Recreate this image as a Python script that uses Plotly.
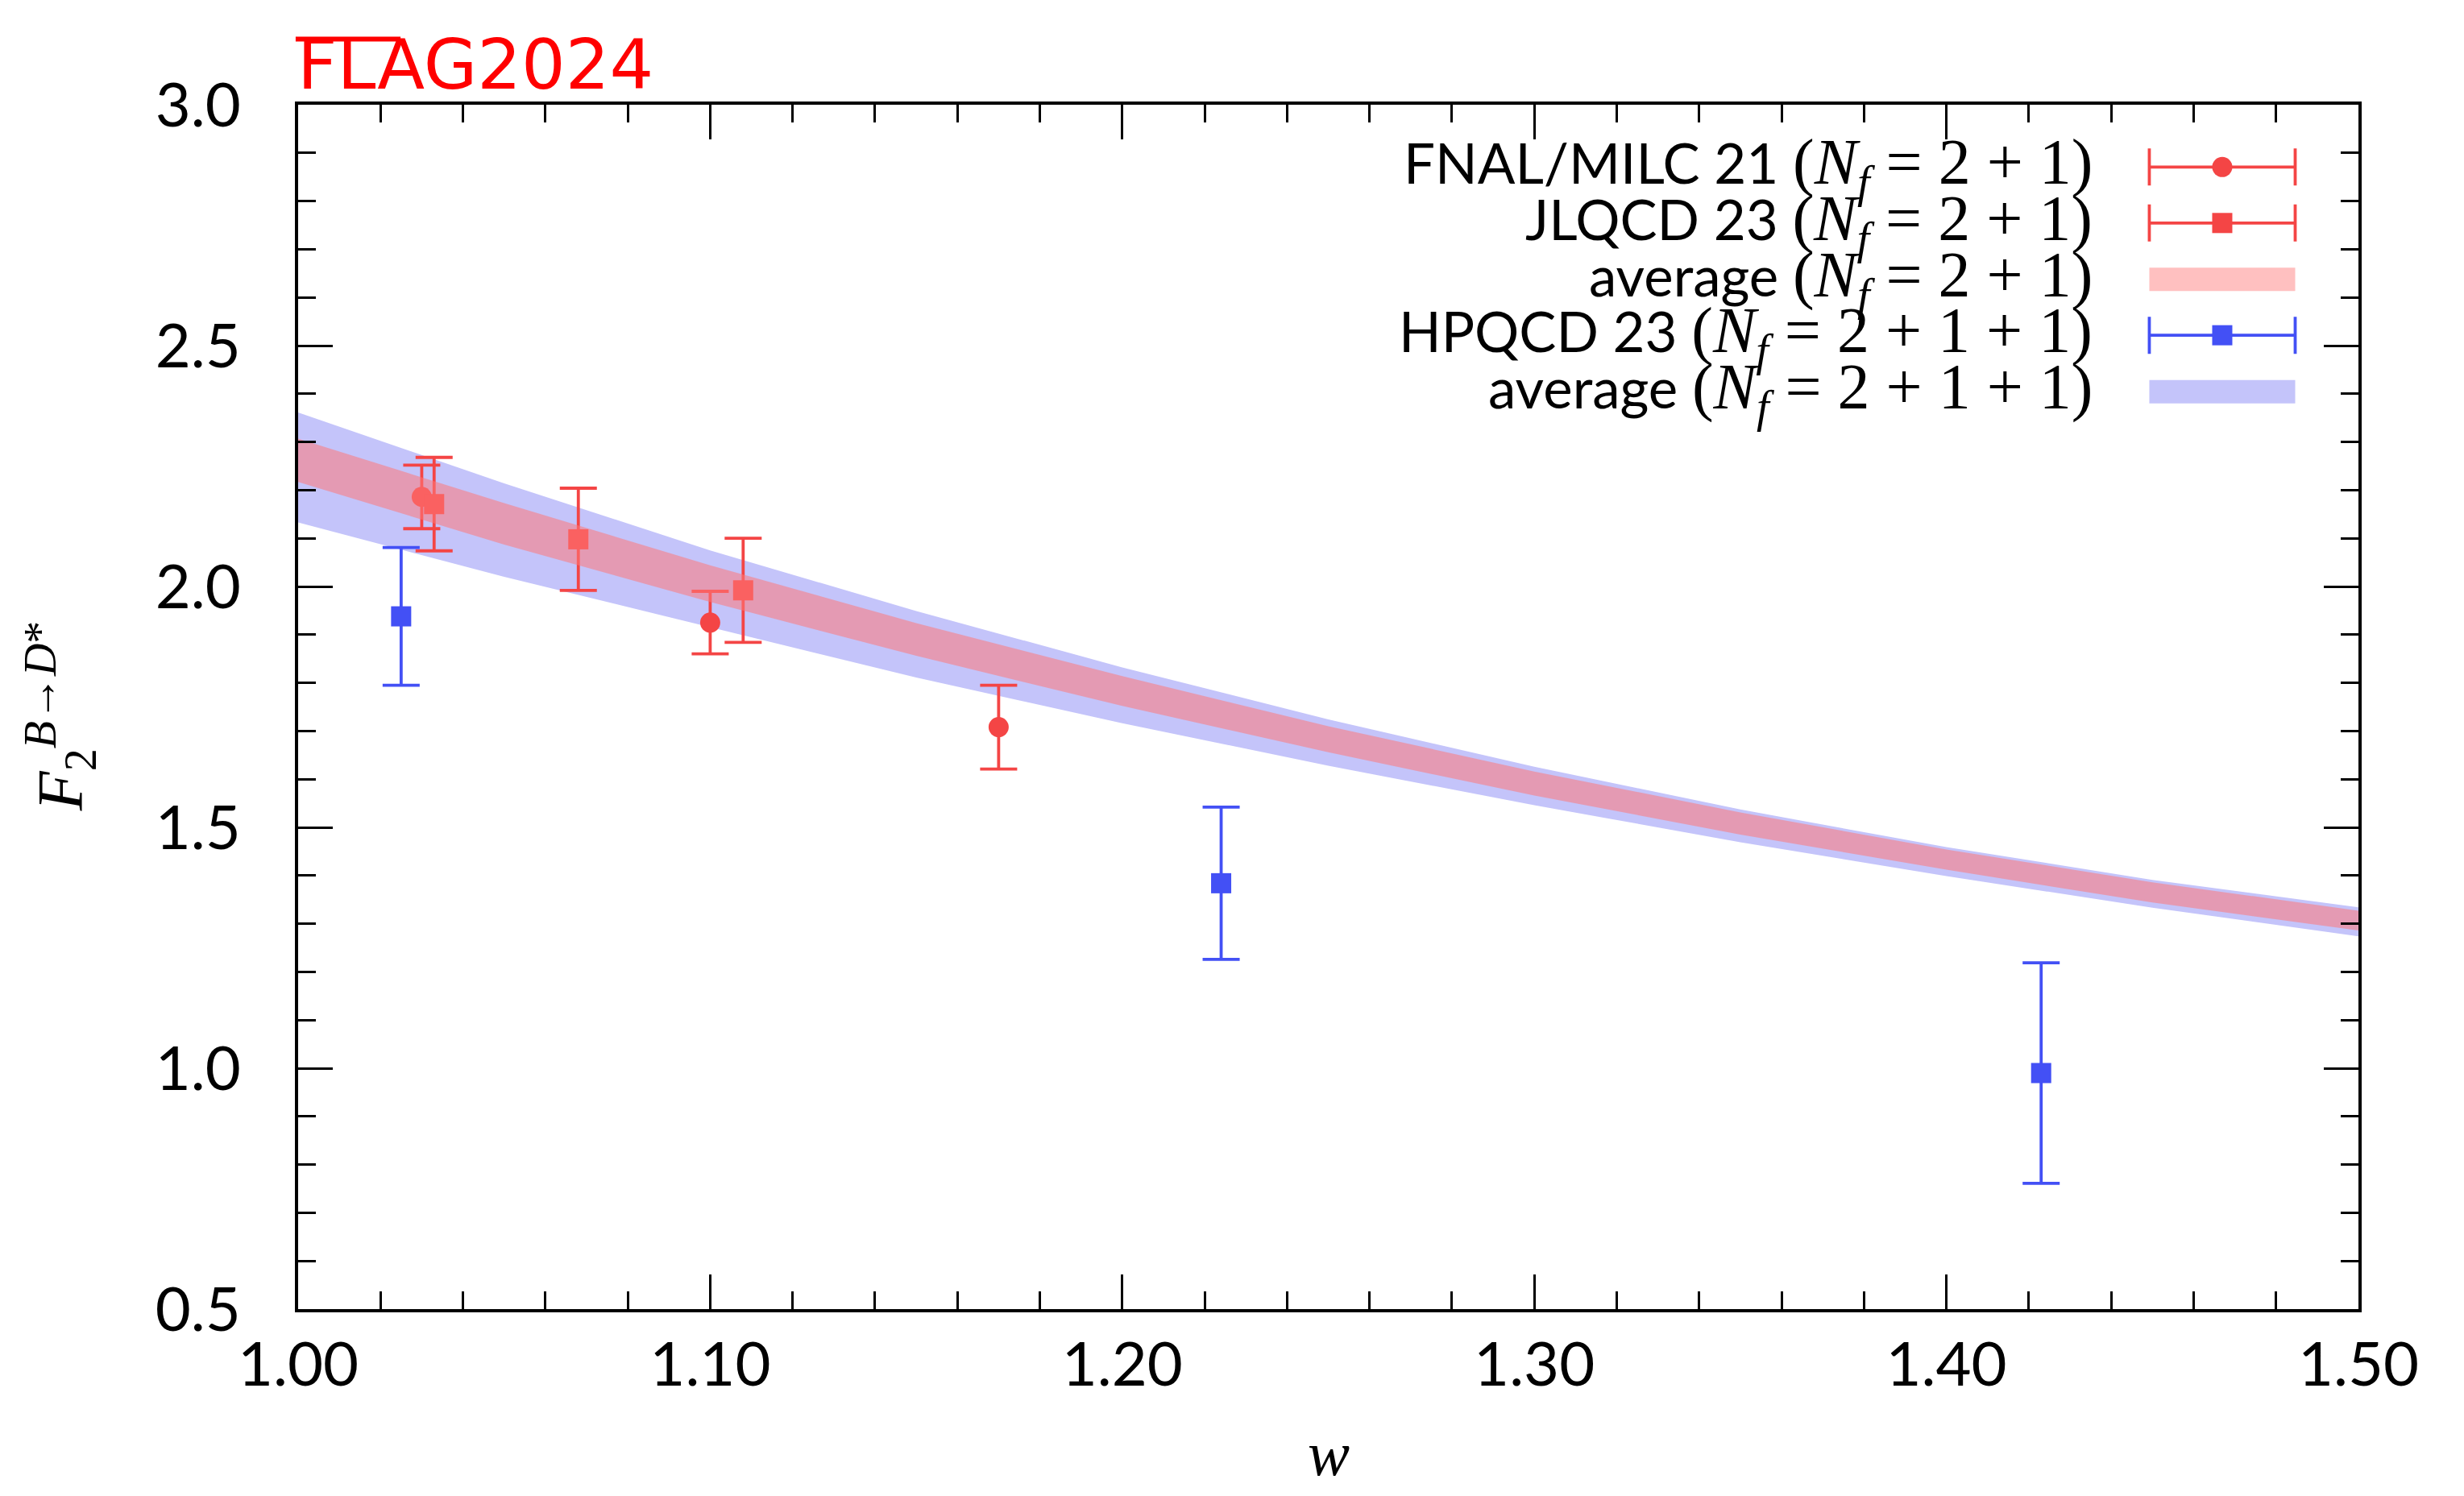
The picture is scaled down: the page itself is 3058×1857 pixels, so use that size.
import plotly.graph_objects as go

# ---------------- data ----------------
fnal_w = [1.030, 1.100, 1.170]
fnal_f = [2.186, 1.925, 1.708]
fnal_e = [0.066, 0.065, 0.087]

jlqcd_w = [1.033, 1.068, 1.108]
jlqcd_f = [2.171, 2.098, 1.992]
jlqcd_e = [0.097, 0.106, 0.108]

hpqcd_w = [1.025, 1.224, 1.423]
hpqcd_f = [1.938, 1.384, 0.990]
hpqcd_e = [0.143, 0.158, 0.229]

band_w = [1.00, 1.05, 1.10, 1.15, 1.20, 1.25, 1.30, 1.35, 1.40, 1.45, 1.50]
avg21_hi = [2.307, 2.173, 2.044, 1.924, 1.814, 1.710, 1.616, 1.531, 1.454, 1.386, 1.327]
avg21_lo = [2.217, 2.087, 1.968, 1.856, 1.752, 1.656, 1.566, 1.485, 1.412, 1.344, 1.286]
avg211_hi = [2.361, 2.214, 2.075, 1.949, 1.832, 1.724, 1.626, 1.537, 1.459, 1.391, 1.334]
avg211_lo = [2.133, 2.020, 1.915, 1.811, 1.716, 1.628, 1.546, 1.469, 1.399, 1.333, 1.274]

x_ticks = [1.0, 1.1, 1.2, 1.3, 1.4, 1.5]
y_ticks = [0.5, 1.0, 1.5, 2.0, 2.5, 3.0]

legend_labels = [
    "FNAL/MILC 21",
    "JLQCD 23",
    "average",
    "HPQCD 23",
    "average",
]
legend_nf = ["2 + 1", "2 + 1", "2 + 1", "2 + 1 + 1", "2 + 1 + 1"]

# ---------------- style ----------------
RED = "#F44545"
BLUE = "#4350F5"
BLUE_BAND = "#C4C4FA"
RED_BAND = "rgba(255,120,120,0.55)"
RED_KEY = "#FFC0C0"
SANS = "Lato"
SERIF = "Liberation Serif"

fig = go.Figure()

# blue band (2+1+1 average), lowest layer
fig.add_trace(go.Scatter(
    x=band_w + band_w[::-1], y=avg211_hi + avg211_lo[::-1],
    fill="toself", fillcolor=BLUE_BAND, line=dict(width=0),
    mode="lines", hoverinfo="skip", showlegend=False))

def points(w, f, e, color, symbol):
    fig.add_trace(go.Scatter(
        x=w, y=f, mode="markers",
        marker=dict(color=color, symbol=symbol, size=25, line=dict(width=0)),
        error_y=dict(type="data", array=e, visible=True, color=color,
                     thickness=3.8, width=23),
        showlegend=False))

points(fnal_w, fnal_f, fnal_e, RED, "circle")
points(jlqcd_w, jlqcd_f, jlqcd_e, RED, "square")
points(hpqcd_w, hpqcd_f, hpqcd_e, BLUE, "square")

# red band (2+1 average), on top
fig.add_trace(go.Scatter(
    x=band_w + band_w[::-1], y=avg21_hi + avg21_lo[::-1],
    fill="toself", fillcolor=RED_BAND, line=dict(width=0),
    mode="lines", hoverinfo="skip", showlegend=False))

# ---------------- custom legend ----------------
row_y = [0.9483, 0.9018, 0.8550, 0.8086, 0.7617]
key_xc = 0.9339
key_half = 0.0354
text_x = 0.8717
kinds = [("pt", RED, "circle"), ("pt", RED, "square"), ("band", RED_KEY, None),
         ("pt", BLUE, "square"), ("band", BLUE_BAND, None)]
for (kind, col, sym), yy in zip(kinds, row_y):
    if kind == "pt":
        fig.add_trace(go.Scatter(
            x=[key_xc], y=[yy], xaxis="x2", yaxis="y2", mode="markers",
            marker=dict(color=col, symbol=sym, size=25, line=dict(width=0)),
            error_x=dict(type="data", array=[key_half], visible=True, color=col,
                         thickness=3.8, width=23),
            showlegend=False, hoverinfo="skip"))
    else:
        fig.add_shape(type="rect", xref="paper", yref="paper",
                      x0=key_xc - key_half, x1=key_xc + key_half,
                      y0=yy - 0.0097, y1=yy + 0.0097,
                      fillcolor=col, line=dict(width=0), layer="above")

for lab, nf, yy in zip(legend_labels, legend_nf, row_y):
    txt = (f"{lab} <span style='font-family:{SERIF};font-size:80px'>(<i>N</i>"
           f"<sub><i>f</i></sub> = {nf})</span>")
    fig.add_annotation(x=text_x, y=yy, xref="paper", yref="paper", text=txt,
                       showarrow=False, xanchor="right", yanchor="middle",
                       font=dict(family=SANS, size=69, color="black"))

# ---------------- titles / logo ----------------
fig.add_annotation(x=-0.1154, y=0.4928, xref="paper", yref="paper",
                   text="<i>F</i><sub>2</sub><sup><i>B</i>→<i>D</i>*</sup>",
                   textangle=-90, showarrow=False, xanchor="center", yanchor="middle",
                   font=dict(family=SERIF, size=80, color="black"))
fig.add_annotation(x=0.5, y=-0.1201, xref="paper", yref="paper", text="<i>w</i>",
                   showarrow=False, xanchor="center", yanchor="middle",
                   font=dict(family=SERIF, size=78, color="black"))
fig.add_annotation(x=-0.0012, y=1.0335, xref="paper", yref="paper", text="FLAG2024",
                   showarrow=False, xanchor="left", yanchor="middle",
                   font=dict(family="DejaVu Sans", size=86, color="#FF0000"))
fig.add_shape(type="line", xref="paper", yref="paper", x0=-0.0012, x1=0.0497,
              y0=1.0545, y1=1.0545, line=dict(color="#FF0000", width=6))

# ---------------- axes ----------------
axis_common = dict(showgrid=False, zeroline=False, showline=True, linecolor="black",
                   linewidth=4, mirror="allticks", ticks="inside", tickcolor="black",
                   tickwidth=3, tickfont=dict(family=SANS, size=76, color="black"))
fig.update_xaxes(range=[1.0, 1.5], tickvals=x_ticks, tickformat=".2f", ticklen=43,
                 minor=dict(dtick=0.02, ticks="inside", ticklen=22, tickwidth=3,
                            tickcolor="black", showgrid=False),
                 ticklabelstandoff=0, **axis_common)
fig.update_yaxes(range=[0.5, 3.0], tickvals=y_ticks, tickformat=".1f", ticklen=43,
                 minor=dict(dtick=0.1, ticks="inside", ticklen=22, tickwidth=3,
                            tickcolor="black", showgrid=False),
                 ticklabelstandoff=52, **axis_common)

fig.update_layout(
    width=3058, height=1857,
    margin=dict(l=370, r=131, t=130, b=232),
    paper_bgcolor="white", plot_bgcolor="white",
    showlegend=False,
    xaxis2=dict(domain=[0, 1], range=[0, 1], anchor="y2", overlaying="x", visible=False),
    yaxis2=dict(domain=[0, 1], range=[0, 1], anchor="x2", overlaying="y", visible=False),
)

fig.write_html("out.html", config={"displayModeBar": False},
               post_script="document.body.style.margin='0px';")
